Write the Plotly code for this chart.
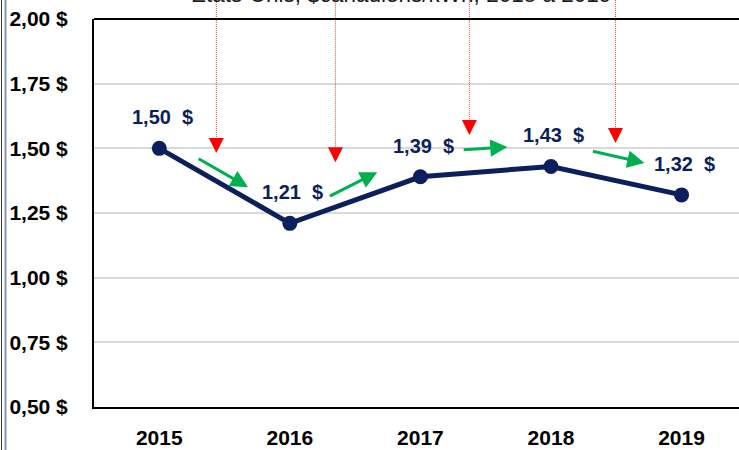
import plotly.graph_objects as go

# ---- data ----
years = ["2015", "2016", "2017", "2018", "2019"]
prices = [1.50, 1.21, 1.39, 1.43, 1.32]
y_ticks = [0.50, 0.75, 1.00, 1.25, 1.50, 1.75, 2.00]
title_text = "États-Unis, $canadiens/kWh, 2015 à 2019"

# green trend arrows: (tail_x, tail_y, tip_x, tip_y) in data units
green_tail_x = [0.29, 1.295, 2.32, 3.31]
green_tail_y = [1.463, 1.312, 1.494, 1.490]
green_tip_x = [0.68, 1.67, 2.667, 3.716]
green_tip_y = [1.350, 1.408, 1.505, 1.443]

# red dotted arrows: x position and tip value
red_x = [0.437, 1.349, 2.375, 3.494]
red_tip_y = [1.482, 1.446, 1.552, 1.521]

# ---- layout constants ----
W, H = 739, 450
ML, MR, MT, MB = 94, 0, 19, 43
XR = [-0.5, 4.44]
YR = [0.5, 2.0]
NAVY = "#0b1f5c"
GREEN = "#00b050"
RED = "#ff0000"
SANS = "Liberation Sans, Arial, sans-serif"
PH = H - MT - MB
PW = W - ML - MR

def xpaper(v):
    return (v - XR[0]) / (XR[1] - XR[0])

def ypaper(v):
    return (v - YR[0]) / (YR[1] - YR[0])

fig = go.Figure()
fig.add_trace(go.Scatter(
    x=list(range(len(years))), y=prices, mode="lines+markers",
    line=dict(color=NAVY, width=5),
    marker=dict(color=NAVY, size=15),
    hoverinfo="skip", showlegend=False,
))

annotations = []
shapes = []

# data labels
for i, v in enumerate(prices):
    annotations.append(dict(
        x=i, y=v, xref="x", yref="y", showarrow=False,
        text="<b>" + f"{v:.2f}".replace(".", ",") + "\u00a0\u00a0$</b>",
        font=dict(family=SANS, size=20, color=NAVY),
        xanchor="center", yanchor="middle", xshift=3, yshift=31,
    ))

# green arrows
for tx, ty, hx, hy in zip(green_tail_x, green_tail_y, green_tip_x, green_tip_y):
    annotations.append(dict(
        x=hx, y=hy, ax=tx, ay=ty, xref="x", yref="y", axref="x", ayref="y",
        showarrow=True, arrowhead=2, arrowsize=1.15, arrowwidth=3,
        arrowcolor=GREEN, text="",
    ))

# red dotted arrows
for rx, ry in zip(red_x, red_tip_y):
    annotations.append(dict(
        x=rx, y=ry, xref="x", yref="y", ax=0, ay=-15,
        showarrow=True, arrowhead=2, arrowsize=3, arrowwidth=1,
        arrowcolor=RED, text="",
    ))
    shapes.append(dict(
        type="line", xref="paper", yref="paper",
        x0=xpaper(rx), x1=xpaper(rx), y0=ypaper(ry) + 14 / PH, y1=1.2,
        line=dict(color="#ff3b3b", width=1, dash="1px,1px"), layer="above",
    ))

# top frame line
shapes.append(dict(type="line", xref="paper", yref="paper", x0=0, x1=1.01, y0=1, y1=1,
                   line=dict(color="black", width=2), layer="above"))
# left double border of the page
shapes.append(dict(type="line", xref="paper", yref="paper", x0=(1.5 - ML) / PW,
                   x1=(1.5 - ML) / PW, y0=-0.2, y1=1.1,
                   line=dict(color="#3a3a3a", width=1)))
shapes.append(dict(type="line", xref="paper", yref="paper", x0=(5.5 - ML) / PW,
                   x1=(5.5 - ML) / PW, y0=-0.2, y1=1.1,
                   line=dict(color="#8497b0", width=2)))

# title (cut at the top)
annotations.append(dict(
    x=(401 - ML) / PW, y=1.0265, xref="paper", yref="paper",
    text=title_text, showarrow=False, xanchor="center", yanchor="bottom",
    font=dict(family=SANS, size=22.5, color="#1a1a1a"),
))

fig.update_layout(
    width=W, height=H,
    margin=dict(l=ML, r=MR, t=MT, b=MB, pad=0, autoexpand=False),
    paper_bgcolor="white", plot_bgcolor="white",
    separators=", ",
    showlegend=False,
    annotations=annotations, shapes=shapes,
    xaxis=dict(
        range=XR, tickmode="array", tickvals=list(range(len(years))), ticktext=years,
        showgrid=False, zeroline=False, showline=True, linecolor="black", linewidth=2,
        ticks="", tickfont=dict(family=SANS, size=21, color="black", weight="bold"),
        ticklabelstandoff=11, automargin=False,
    ),
    yaxis=dict(
        range=YR, tickmode="array", tickvals=y_ticks,
        ticktext=[f"{t:.2f}".replace(".", ",") + " $" for t in y_ticks],
        showgrid=True, gridcolor="#d9d9d9", gridwidth=1.5,
        zeroline=False, showline=True, linecolor="black", linewidth=2,
        ticks="", tickfont=dict(family=SANS, size=21, color="black", weight="bold"),
        ticklabelstandoff=20, automargin=False,
    ),
)

fig.write_html(
    "out.html",
    config={"displayModeBar": False},
    post_script="document.body.style.margin='0';document.body.style.overflow='hidden';",
)
